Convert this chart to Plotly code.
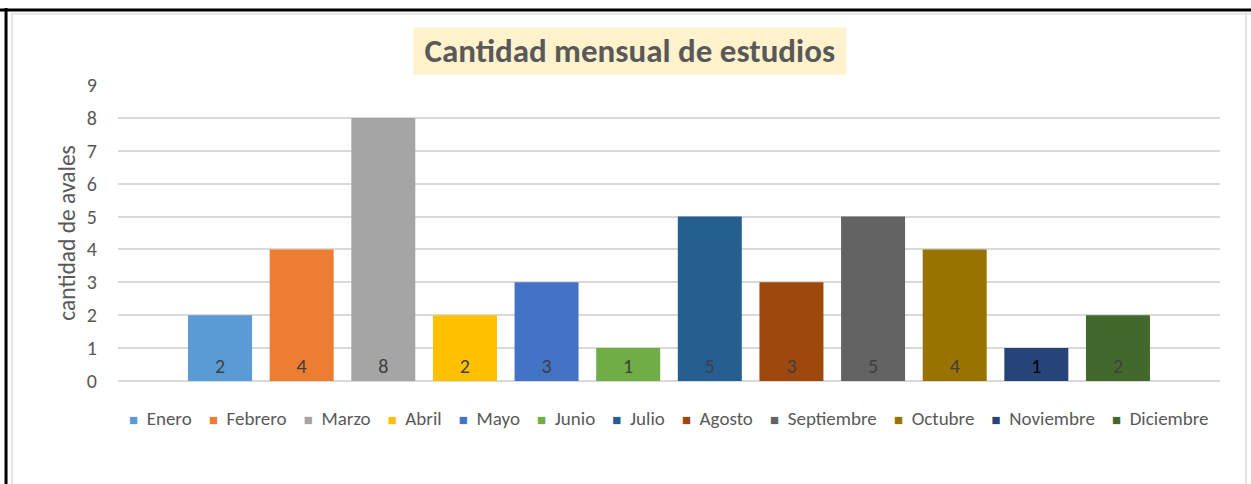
import plotly.graph_objects as go

# ---- data ----
months = ["Enero", "Febrero", "Marzo", "Abril", "Mayo", "Junio",
          "Julio", "Agosto", "Septiembre", "Octubre", "Noviembre", "Diciembre"]
avales = [2, 4, 8, 2, 3, 1, 5, 3, 5, 4, 1, 2]
y_ticks = [0, 1, 2, 3, 4, 5, 6, 7, 8, 9]
chart_title = "Cantidad mensual de estudios"
y_title = "cantidad de avales"

# ---- styles ----
bar_colors = ["#5B9BD5", "#ED7D31", "#A5A5A5", "#FFC000", "#4472C4", "#70AD47",
              "#255E91", "#9E480E", "#636363", "#997300", "#264478", "#43682B"]
label_colors = ["#404040"] * 10 + ["#000000", "#404040"]
FONT = "Calibri, Carlito, Lato, sans-serif"
GREY = "#595959"
GRID = "#D9D9D9"

fig = go.Figure()
for m, v, c, lc in zip(months, avales, bar_colors, label_colors):
    fig.add_trace(go.Bar(
        x=[m], y=[v], name=m,
        marker=dict(color=c, line=dict(width=0)),
        text=[str(v)], textposition="inside", insidetextanchor="start",
        textfont=dict(family=FONT, size=20, color=lc),
        textangle=0, showlegend=False,
    ))

fig.update_layout(
    width=1251, height=484,
    margin=dict(l=118, r=31, t=85, b=103),
    paper_bgcolor="white", plot_bgcolor="white",
    barmode="relative", bargap=0.216,
    font=dict(family=FONT, color=GREY),
    showlegend=False,
    xaxis=dict(type="category", categoryorder="array", categoryarray=months,
               range=[-1.25, 12.25], showticklabels=False, showgrid=False,
               zeroline=False, showline=False, ticks=""),
    yaxis=dict(range=[0, 9], tickvals=y_ticks, showgrid=True, gridcolor=GRID, gridwidth=1.5,
               zeroline=True, zerolinecolor=GRID, zerolinewidth=1.5, showline=False,
               ticks="outside", ticklen=16, tickcolor="rgba(0,0,0,0)",
               tickfont=dict(family=FONT, size=20, color=GREY),
               title=dict(text=y_title, standoff=4,
                          font=dict(family=FONT, size=23.5, color=GREY))),
)

# title box
fig.add_annotation(
    text="&nbsp;<b>" + chart_title + "</b>&nbsp;", xref="paper", yref="paper",
    x=0.4646, y=1.115, xanchor="center", yanchor="middle", showarrow=False,
    font=dict(family=FONT, size=33, color=GREY), bgcolor="#FFF2CC", borderpad=3,
)

# legend row (colour key built from the month and colour lists)
legend_text = "&nbsp;&nbsp;&nbsp;&nbsp;".join(
    f"<span style='color:{c};font-size:15px'>■</span>&nbsp;&nbsp;{m}"
    for m, c in zip(months, bar_colors)
)
fig.add_annotation(
    text=legend_text, xref="paper", yref="paper",
    x=0.5, y=-0.125, xanchor="center", yanchor="middle", showarrow=False,
    font=dict(family=FONT, size=19, color=GREY),
)

# outer frame (spreadsheet screenshot border)
frame = dict(xref="paper", yref="paper", layer="above")
fig.add_shape(type="line", x0=-0.11, x1=1.05, y0=1.2534, y1=1.2534,
              line=dict(color="black", width=3), **frame)
fig.add_shape(type="line", x0=-0.1016, x1=-0.1016, y0=-0.4, y1=1.26,
              line=dict(color="black", width=3), **frame)
fig.add_shape(type="line", x0=-0.096, x1=1.05, y0=1.2405, y1=1.2405,
              line=dict(color="#E4E4E4", width=2), **frame)
fig.add_shape(type="line", x0=-0.0962, x1=-0.0962, y0=-0.4, y1=1.245,
              line=dict(color="#E4E4E4", width=2), **frame)
fig.add_shape(type="line", x0=1.0236, x1=1.0236, y0=-0.4, y1=1.245,
              line=dict(color="#E4E4E4", width=2), **frame)

fig.write_html("out.html", config={"displayModeBar": False},
               post_script="document.body.style.margin='0';document.body.style.overflow='hidden';")
